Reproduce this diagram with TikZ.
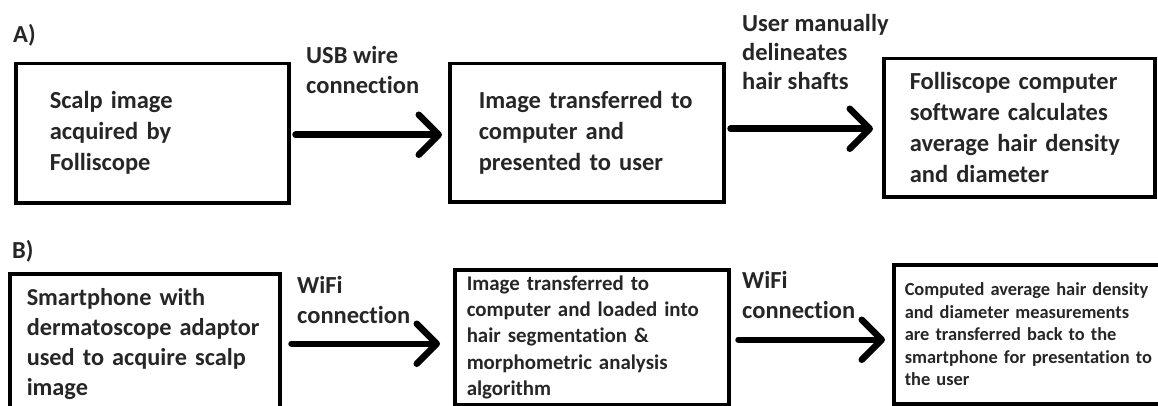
\documentclass[tikz,border=0pt]{standalone}
\usepackage{fontspec}
\setmainfont{Carlito}[Ligatures=NoCommon]
\usetikzlibrary{arrows.meta}
\definecolor{ink}{HTML}{262626}
\tikzset{
  box/.style={draw=black, line width=3.5pt, anchor=north west, align=left, inner ysep=0pt, text=ink},
  lbl/.style={anchor=base west, align=left, inner sep=0pt, text=ink, font=\fontsize{24.5}{30}\selectfont\bfseries},
  conn/.style={line width=6.5pt, line cap=round, -{Straight Barb[length=20pt,width=40pt,round]}},
}
\begin{document}
\begin{tikzpicture}[x=1pt,y=-1pt]
\useasboundingbox (0,0) rectangle (1158,406);
\clip (0,0) rectangle (1158,406);
% row A
\node[lbl] (la) at (13,43) {A)};
\node[box, minimum width=273pt, minimum height=139pt, text width=205pt, inner xsep=34pt,
      font=\fontsize{24.5}{31}\selectfont\bfseries] (a1) at (14,62)
  {Scalp image\\acquired by\\Folliscope};
\node[box, minimum width=274pt, minimum height=138pt, text width=216pt, inner xsep=29pt,
      font=\fontsize{24.5}{31}\selectfont\bfseries] (a2) at (448,62)
  {Image transferred to\\computer and\\presented to user};
\node[box, minimum width=271pt, minimum height=138pt, text width=219pt, inner xsep=26pt,
      font=\fontsize{24.5}{31}\selectfont\bfseries] (a3) at (882,57)
  {Folliscope computer\\software calculates\\average hair density\\and diameter};
\node[lbl] (l1) at (306,94) {USB wire\\connection};
\node[lbl, font=\fontsize{24.5}{29}\selectfont\bfseries] (l2) at (742,90) {User manually\\delineates\\hair shafts};
\draw[conn] ([xshift=5pt,yshift=-1.5pt]a1.east) -- ([xshift=-6pt,yshift=-2pt]a2.west);
\draw[conn] ([xshift=5pt,yshift=4pt]a2.east) -- ([xshift=-9pt,yshift=-1pt]a3.west);
% row B
\node[lbl] (lb) at (12,258) {B)};
\node[box, minimum width=270pt, minimum height=140pt, text width=236pt, inner xsep=17pt,
      font=\fontsize{24.3}{30}\selectfont\bfseries] (b1) at (8,272)
  {Smartphone with\\dermatoscope adaptor\\used to acquire scalp\\image};
\node[box, minimum width=274pt, minimum height=135pt, text width=250pt, inner xsep=12pt,
      font=\fontsize{20.9}{26.3}\selectfont\bfseries] (b2) at (453,268)
  {Image transferred to\\computer and loaded into\\hair segmentation \&\\morphometric analysis\\algorithm};
\node[box, minimum width=274pt, minimum height=139pt, text width=252pt, inner xsep=11pt,
      font=\fontsize{18.4}{22.5}\selectfont\bfseries] (b3) at (892,263)
  {Computed average hair density\\and diameter measurements\\are transferred back to the\\smartphone for presentation to\\the user};
\node[lbl] (l3) at (297,323) {WiFi\\connection};
\node[lbl] (l4) at (742,318) {WiFi\\connection};
\draw[conn] ([xshift=10pt]b1.east) -- ([xshift=-13pt,yshift=-6.5pt]b2.west);
\draw[conn] ([xshift=8pt,yshift=-2.5pt]b2.east) -- ([xshift=-7pt,yshift=-5.5pt]b3.west);
\end{tikzpicture}
\end{document}
